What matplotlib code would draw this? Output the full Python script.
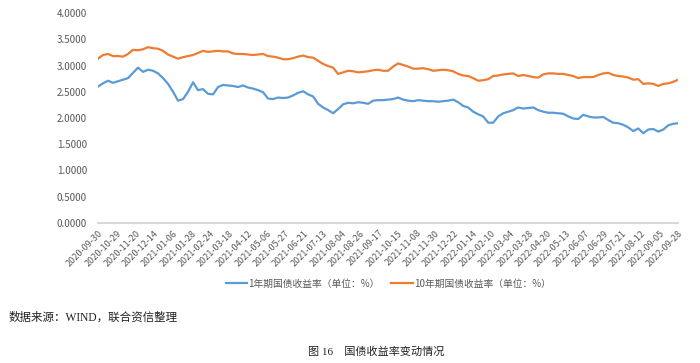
import numpy as np
import matplotlib
matplotlib.use("Agg")
import matplotlib.pyplot as plt

plt.rcParams['font.family'] = ['Noto Sans CJK SC', 'DejaVu Sans']

# tick labels along the (categorical) date axis
dates = ["2020-09-30", "2020-10-29", "2020-11-20", "2020-12-14", "2021-01-06", "2021-01-28",
         "2021-02-24", "2021-03-18", "2021-04-12", "2021-05-06", "2021-05-27", "2021-06-21",
         "2021-07-13", "2021-08-04", "2021-08-26", "2021-09-17", "2021-10-15", "2021-11-08",
         "2021-11-30", "2021-12-22", "2022-01-14", "2022-02-10", "2022-03-04", "2022-03-28",
         "2022-04-20", "2022-05-13", "2022-06-07", "2022-06-29", "2022-07-21", "2022-08-12",
         "2022-09-05", "2022-09-28"]

# 1-year yield (%)
y1 = [2.60, 2.66, 2.71, 2.67, 2.70, 2.73, 2.76, 2.86, 2.96, 2.88,
      2.92, 2.90, 2.85, 2.76, 2.65, 2.50, 2.33, 2.36, 2.50, 2.68,
      2.53, 2.55, 2.46, 2.45, 2.59, 2.63, 2.62, 2.61, 2.59, 2.62,
      2.58, 2.56, 2.53, 2.49, 2.37, 2.36, 2.39, 2.38, 2.39, 2.43,
      2.48, 2.51, 2.45, 2.41, 2.27, 2.20, 2.15, 2.09, 2.17, 2.26,
      2.29, 2.28, 2.30, 2.29, 2.27, 2.33, 2.34, 2.34, 2.35, 2.36,
      2.39, 2.35, 2.33, 2.32, 2.34, 2.33, 2.32, 2.32, 2.31, 2.32,
      2.33, 2.35, 2.30, 2.23, 2.20, 2.12, 2.07, 2.03, 1.91, 1.91,
      2.03, 2.09, 2.12, 2.15, 2.20, 2.18, 2.19, 2.20, 2.15, 2.12,
      2.10, 2.10, 2.09, 2.08, 2.03, 1.99, 1.98, 2.06, 2.03, 2.01,
      2.01, 2.02, 1.96, 1.91, 1.90, 1.87, 1.82, 1.75, 1.80, 1.71,
      1.78, 1.79, 1.74, 1.78, 1.86, 1.89, 1.90]

# 10-year yield (%)
y10 = [3.13, 3.20, 3.22, 3.18, 3.18, 3.17, 3.22, 3.30, 3.29, 3.31,
       3.35, 3.33, 3.32, 3.28, 3.21, 3.17, 3.13, 3.16, 3.18, 3.20,
       3.24, 3.28, 3.26, 3.27, 3.28, 3.27, 3.27, 3.23, 3.22, 3.22,
       3.21, 3.20, 3.21, 3.22, 3.18, 3.17, 3.15, 3.12, 3.12, 3.14,
       3.17, 3.19, 3.16, 3.15, 3.09, 3.03, 2.99, 2.96, 2.84, 2.87,
       2.90, 2.89, 2.87, 2.88, 2.89, 2.91, 2.92, 2.90, 2.90, 2.98,
       3.04, 3.01, 2.98, 2.94, 2.94, 2.95, 2.93, 2.90, 2.91, 2.92,
       2.91, 2.89, 2.84, 2.81, 2.80, 2.76, 2.71, 2.72, 2.74, 2.80,
       2.81, 2.83, 2.84, 2.85, 2.80, 2.82, 2.80, 2.78, 2.77, 2.83,
       2.85, 2.85, 2.84, 2.84, 2.82, 2.80, 2.76, 2.78, 2.78, 2.78,
       2.82, 2.85, 2.86, 2.82, 2.80, 2.79, 2.77, 2.73, 2.74, 2.65,
       2.66, 2.65, 2.61, 2.65, 2.66, 2.69, 2.73]

fig = plt.figure(figsize=(7, 3.63), dpi=100)
ax = fig.add_axes([0.14, 0.386, 0.829, 0.578])

x = np.arange(len(y1))
ax.plot(x, y1, color="#5B9BD5", lw=1.6, label="1年期国债收益率（单位：%）")
ax.plot(x, y10, color="#ED7D31", lw=1.6, label="10年期国债收益率（单位：%）")

ax.set_ylim(0, 4)
ax.set_xlim(0, len(y1) - 1)
ax.set_yticks(np.arange(0, 4.01, 0.5))
ax.set_yticklabels([f"{v:.4f}" for v in np.arange(0, 4.01, 0.5)])

ax.set_xticks(np.linspace(0, len(y1) - 1, len(dates)))
ax.set_xticklabels(dates, rotation=45, ha="right", rotation_mode="anchor")

for s in ["top", "right", "left"]:
    ax.spines[s].set_visible(False)
ax.spines["bottom"].set_color("#d9d9d9")
ax.spines["bottom"].set_linewidth(1.5)
ax.tick_params(axis="both", length=0, colors="#595959", labelsize=7)
ax.tick_params(axis="x", labelsize=6.5, pad=4)
ax.tick_params(axis="y", pad=8)

ax.legend(loc="center", bbox_to_anchor=(0.5, -0.29), ncol=2, frameon=False,
          fontsize=7, labelcolor="#595959", handlelength=2.2, handletextpad=0.1,
          columnspacing=1.2)

src_font = ['Liberation Serif', 'Noto Sans CJK SC']
fig.text(0.012, 1 - 318 / 363, "数据来源：WIND，联合资信整理", fontsize=8.3,
         family=src_font, va="center", ha="left", color="#222222")
fig.text(0.537, 1 - 352 / 363, "图 16　国债收益率变动情况", fontsize=8,
         family=src_font, va="center", ha="center", color="#222222")

fig.savefig("out.png", dpi=100)
